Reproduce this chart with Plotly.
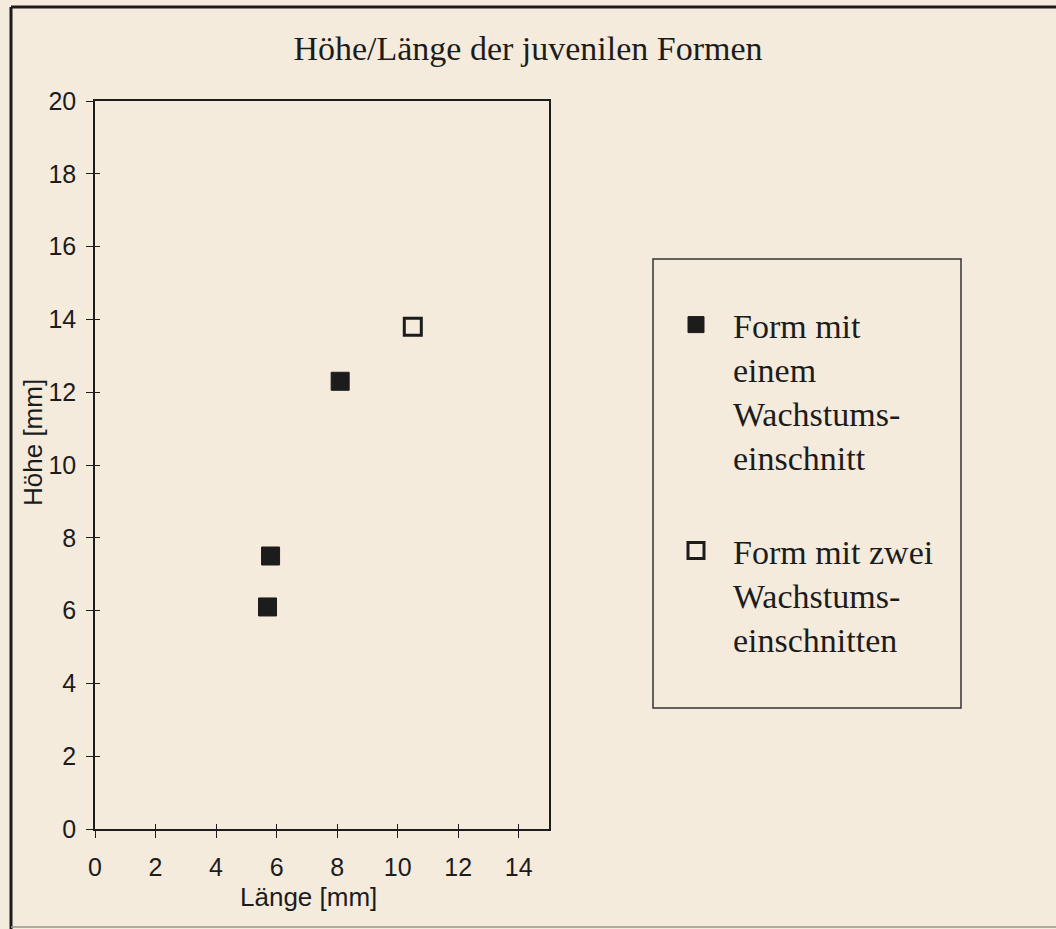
import plotly.graph_objects as go

# ---- data ----
series_names = [
    "Form mit<br>einem<br>Wachstums-<br>einschnitt",
    "Form mit zwei<br>Wachstums-<br>einschnitten",
]
laenge_ein = [5.7, 5.8, 8.1]
hoehe_ein = [6.1, 7.5, 12.3]
laenge_zwei = [10.5]
hoehe_zwei = [13.8]
x_ticks = [0, 2, 4, 6, 8, 10, 12, 14]
y_ticks = [0, 2, 4, 6, 8, 10, 12, 14, 16, 18, 20]
x_range = [0, 15]
y_range = [0, 20]

title_text = "Höhe/Länge der juvenilen Formen"
x_title = "Länge [mm]"
y_title = "Höhe [mm]"

BG = "#F4EBDD"
INK = "#1c1c1c"
W, H = 1056, 929
L, R, T, B = 95, 549, 101, 829  # plot area pixel bounds


def px(xp):
    return (xp - L) / (R - L)


def py(yp):
    return (B - yp) / (B - T)


fig = go.Figure()
fig.add_trace(go.Scatter(
    x=laenge_ein, y=hoehe_ein, mode="markers", name=series_names[0],
    legendgroup="a",
    marker=dict(symbol="square", size=18, color=INK, line=dict(color=INK, width=1)),
))
fig.add_trace(go.Scatter(
    x=laenge_zwei, y=hoehe_zwei, mode="markers", name=series_names[1],
    legendgroup="b",
    marker=dict(symbol="square-open", size=17, color=INK, line=dict(color=INK, width=3)),
))
# empty carrier trace so the overlay axes (inner tick halves) get drawn
fig.add_trace(go.Scatter(x=[None], y=[None], xaxis="x2", yaxis="y2", mode="markers",
                         showlegend=False, hoverinfo="skip"))

axis_common = dict(
    showgrid=False, zeroline=False, showline=True, linecolor=INK, linewidth=1.5,
    mirror=True, ticks="outside", ticklen=7, tickwidth=1.2, tickcolor=INK,
    tickfont=dict(family="Liberation Sans, Arial, sans-serif", size=25, color=INK),
)

fig.update_xaxes(range=x_range, tickvals=x_ticks, ticklabelstandoff=8, **axis_common)
fig.update_yaxes(range=y_range, tickvals=y_ticks, ticklabelstandoff=5, **axis_common)

# inner half of the crossing tick marks
inner = dict(showgrid=False, zeroline=False, showline=False, ticks="inside", ticklen=5,
             tickwidth=1.2, tickcolor=INK, showticklabels=False, fixedrange=True)

shapes = [
    # outer frame (left, top, bottom)
    dict(type="line", xref="paper", yref="paper", x0=px(11), x1=px(11), y0=py(7), y1=py(929),
         line=dict(color=INK, width=3)),
    dict(type="line", xref="paper", yref="paper", x0=px(11), x1=px(1056), y0=py(7), y1=py(7),
         line=dict(color=INK, width=3)),
    dict(type="line", xref="paper", yref="paper", x0=px(11), x1=px(1056), y0=py(927), y1=py(927),
         line=dict(color="#9a958e", width=1.5)),
    # legend box
    dict(type="rect", xref="paper", yref="paper", x0=px(653), x1=px(961), y0=py(708), y1=py(259),
         line=dict(color="#333333", width=1.5)),
]

annotations = [
    dict(text=x_title, xref="paper", yref="paper", x=px(308), y=py(897), showarrow=False,
         xanchor="center", yanchor="middle",
         font=dict(family="Liberation Sans, Arial, sans-serif", size=26, color=INK)),
    dict(text=y_title, xref="paper", yref="paper", x=px(33), y=py(443), showarrow=False,
         textangle=-90, xanchor="center", yanchor="middle",
         font=dict(family="Liberation Sans, Arial, sans-serif", size=26, color=INK)),
]

fig.update_layout(
    width=W, height=H, autosize=False,
    margin=dict(l=L, r=W - R, t=T, b=H - B, pad=0),
    paper_bgcolor=BG, plot_bgcolor=BG,
    xaxis2=dict(overlaying="x", anchor="y2", side="bottom", range=x_range, tickvals=x_ticks, **inner),
    yaxis2=dict(overlaying="y", anchor="x2", side="left", range=y_range, tickvals=y_ticks, **inner),
    title=dict(text=title_text, x=0.5, xanchor="center", xref="container",
               y=1 - 48 / H, yanchor="middle",
               font=dict(family="Liberation Serif, Times New Roman, serif", size=34, color=INK)),
    showlegend=True,
    legend=dict(
        x=px(659), y=py(296), xanchor="left", yanchor="top",
        bgcolor="rgba(0,0,0,0)", borderwidth=0, valign="top",
        itemwidth=64,
        tracegroupgap=46, traceorder="grouped",
        font=dict(family="Liberation Serif, Times New Roman, serif", size=34, color=INK),
    ),
    shapes=shapes,
    annotations=annotations,
)

fig.write_html(
    "out.html",
    config={"displayModeBar": False},
    post_script="document.body.style.margin='0';document.body.style.background='" + BG + "';",
)
